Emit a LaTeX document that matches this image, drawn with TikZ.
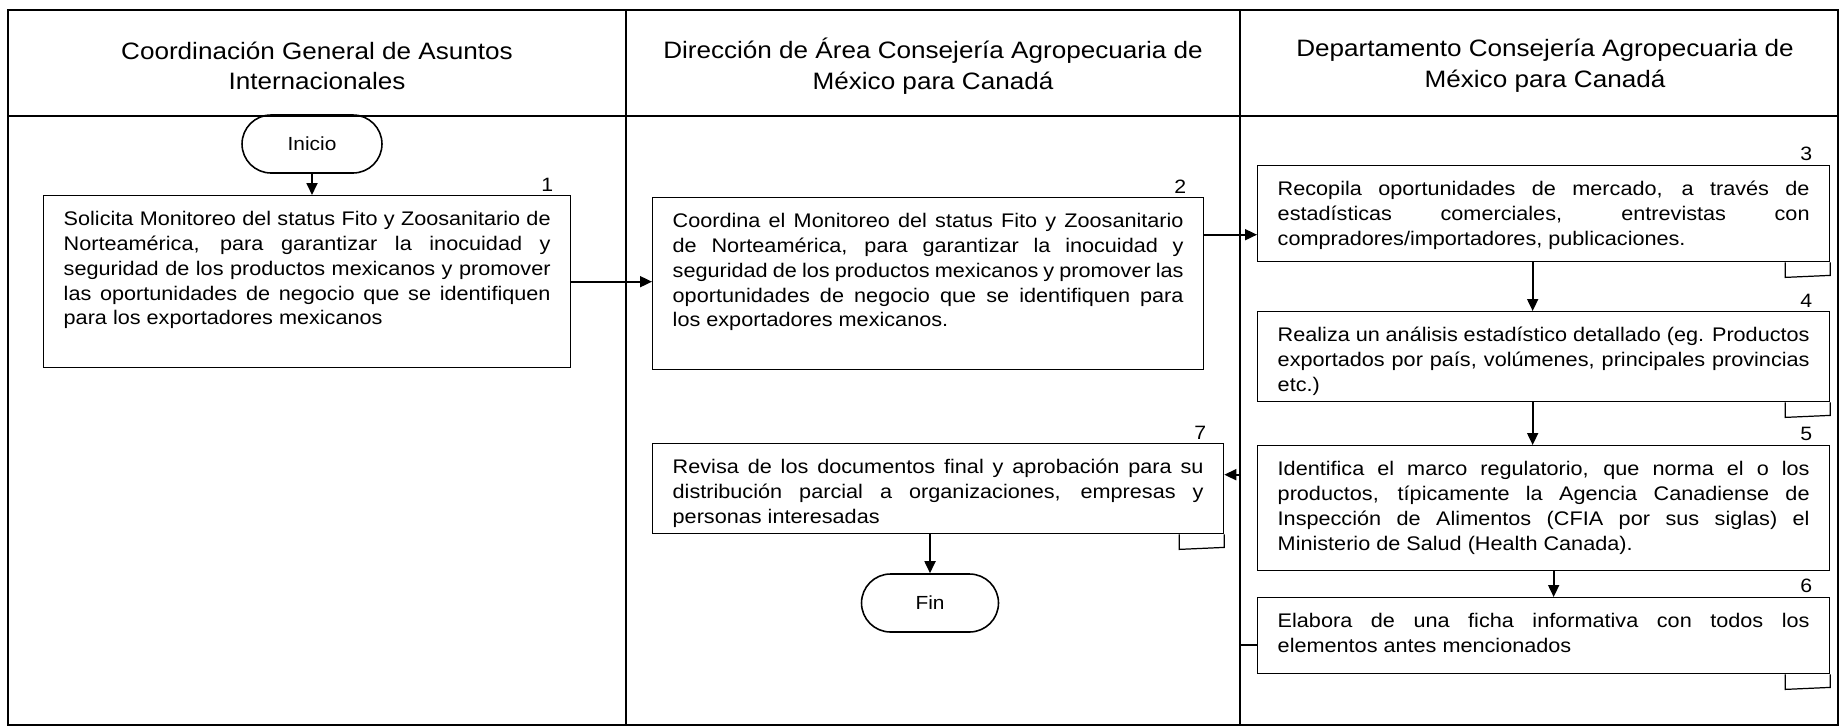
\documentclass[tikz,border=0pt]{standalone}
\usepackage{fontspec}
\setmainfont{Liberation Sans}[FakeStretch=1.1]
\usetikzlibrary{arrows.meta,calc}
\hyphenpenalty=10000
\exhyphenpenalty=10000
\setlength{\parindent}{0pt}

\tikzset{
    lane/.style={line width=1.1pt},
    lanehead/.style={align=center,font=\fontsize{13.5}{17.5}\selectfont},
    proc/.style={draw,line width=0.8pt,anchor=north west,align=justify,inner xsep=0.4cm,inner ysep=0pt,
        text height=0.6cm,font=\fontsize{11.2}{14.1}\selectfont},
    term/.style={draw,line width=0.9pt,rounded corners=0.58cm,minimum height=1.16cm,font=\fontsize{10.8}{13}\selectfont},
    stepnum/.style={anchor=south east,inner sep=1pt,font=\fontsize{11}{13}\selectfont},
    flow/.style={line width=1pt,-{Triangle[length=0.24cm,width=0.22cm]}}
}

\begin{document}
\begin{tikzpicture}[x=0.02cm,y=-0.02cm]
    \useasboundingbox (0,0) rectangle (1841,727);
    \draw[lane] (8,10) rectangle (1838,725);
    \draw[lane] (8,116) -- (1838,116);
    \foreach \x in {626,1240} \draw[lane] (\x,10) -- (\x,725);

    \node[lanehead] (h1) at (317,66) {Coordinación General de Asuntos\\Internacionales};
    \node[lanehead] (h2) at (933,66) {Dirección de Área Consejería Agropecuaria de\\México para Canadá};
    \node[lanehead] (h3) at (1545,66) {Departamento Consejería Agropecuaria de\\México para Canadá};

    \node[term,minimum width=2.8cm] (ini) at (312,144) {Inicio};
    \node[proc,text width=9.74cm,text depth=2.84cm] (p1) at (43,195) {Solicita Monitoreo del status Fito y Zoosanitario de\linebreak
        Norteamérica, para garantizar la inocuidad y\linebreak seguridad de los productos mexicanos y promover\linebreak
        las oportunidades de negocio que se identifiquen\linebreak para los exportadores mexicanos};
    \node[proc,text width=10.22cm,text depth=2.84cm] (p2) at (652,197) {Coordina el Monitoreo del status Fito y Zoosanitario\linebreak
        de Norteamérica, para garantizar la inocuidad y\linebreak seguridad de los productos mexicanos y promover las\linebreak
        oportunidades de negocio que se identifiquen para\linebreak los exportadores mexicanos.};
    \node[proc,text width=10.64cm,text depth=1.32cm] (p3) at (1257,165) {Recopila oportunidades de mercado, a través de\linebreak
        estadísticas comerciales, entrevistas con\linebreak compradores/importadores, publicaciones.};
    \node[proc,text width=10.64cm,text depth=1.2cm] (p4) at (1257,311) {Realiza un análisis estadístico detallado (eg. Productos\linebreak
        exportados por país, volúmenes, principales provincias\linebreak etc.)};
    \node[proc,text width=10.64cm,text depth=1.9cm] (p5) at (1257,445) {Identifica el marco regulatorio, que norma el o los\linebreak
        productos, típicamente la Agencia Canadiense de\linebreak Inspección de Alimentos (CFIA por sus siglas) el\linebreak
        Ministerio de Salud (Health Canada).};
    \node[proc,text width=10.64cm,text depth=0.92cm] (p6) at (1257,597) {Elabora de una ficha informativa con todos los\linebreak
        elementos antes mencionados};
    \node[proc,text width=10.62cm,text depth=1.2cm] (p7) at (652,443) {Revisa de los documentos final y aprobación para su\linebreak
        distribución parcial a organizaciones, empresas y\linebreak personas interesadas};
    \node[term,minimum width=2.74cm] (fin) at (930,603) {Fin};

    \foreach \b/\n in {p1/1,p2/2,p3/3,p4/4,p5/5,p6/6,p7/7}
        \node[stepnum] (n\n) at ([xshift=-0.32cm,yshift=1pt]\b.north east) {\n};
    \foreach \b in {p3,p4,p6,p7}
        \draw[line width=0.7pt] ([xshift=-0.9cm]\b.south east) -- ++(0,15) -- ++(45,-2) -- (\b.south east);

    \draw[flow] (ini.south) -- (ini.south |- p1.north);
    \draw[flow] (p1.east) -- (p1.east -| p2.west);
    \coordinate (in3) at ($(p3.west)+(0,21)$);
    \draw[flow] (p2.east |- in3) -- (in3);
    \draw[flow] ([xshift=-0.22cm]p3.south) -- ([xshift=-0.22cm]p4.north);
    \draw[flow] ([xshift=-0.22cm]p4.south) -- ([xshift=-0.22cm]p5.north);
    \draw[flow] ([xshift=0.2cm]p5.south) -- ([xshift=0.2cm]p6.north);
    \draw[flow] ($(p6.west)+(0,9)$) -- ++(-17,0) |- ($(p7.east)+(0,-14)$);
    \draw[flow] (fin.north |- p7.south) -- (fin.north);
\end{tikzpicture}
\end{document}
